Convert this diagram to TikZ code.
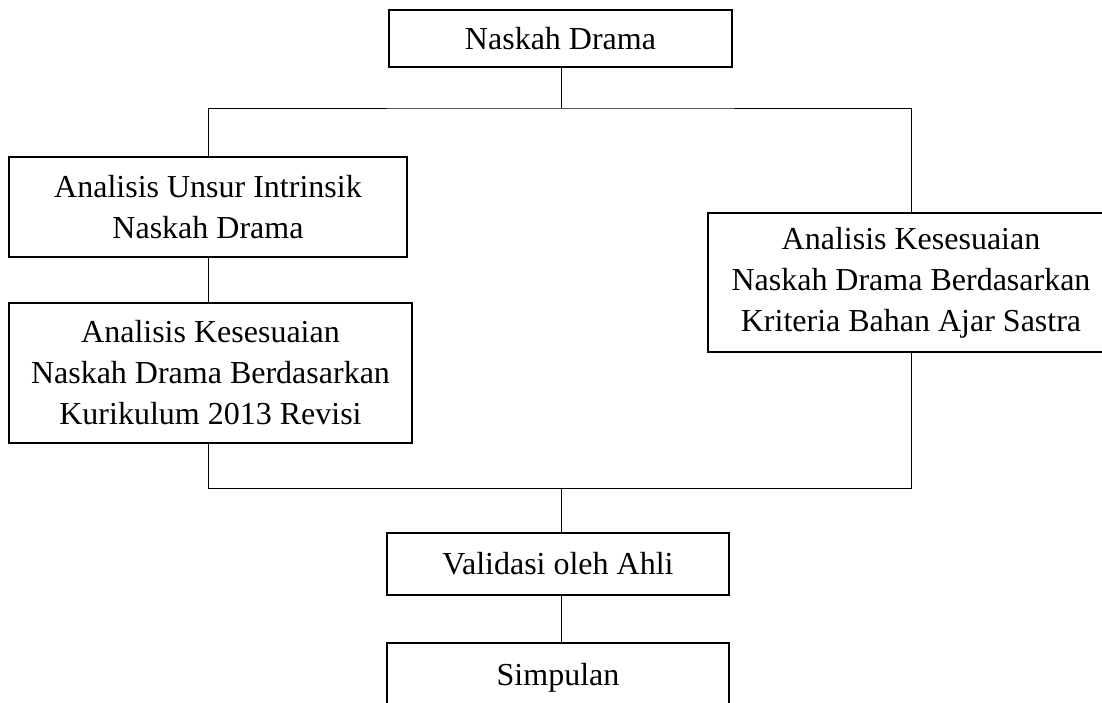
\documentclass[tikz,border=0pt]{standalone}
\usepackage{fontspec}
\setmainfont{Liberation Serif}
\usetikzlibrary{calc}

\tikzset{kotak/.style={draw, line width=1.6pt, align=center, inner sep=0pt,
  font=\fontsize{32}{41}\selectfont}}

\begin{document}
\begin{tikzpicture}[x=1pt,y=-1pt,line width=1pt]
\useasboundingbox (0,0) rectangle (1102,702);
% kotak-kotak
\node[kotak, minimum width=343, minimum height=57] (naskah) at (560.5,38.5) {Naskah Drama};
\node[kotak, minimum width=398, minimum height=100] (intrinsik) at (208,207) {Analisis Unsur Intrinsik\\Naskah Drama};
\node[kotak, minimum width=403, minimum height=140] (kurikulum) at (210.5,373) {Analisis Kesesuaian\\Naskah Drama Berdasarkan\\Kurikulum 2013 Revisi};
\node[kotak, minimum width=406, minimum height=139] (kriteria) at (911,282.5) {Analisis Kesesuaian\\Naskah Drama Berdasarkan\\Kriteria Bahan Ajar Sastra};
\node[kotak, minimum width=342, minimum height=62] (validasi) at (558,564) {Validasi oleh Ahli};
\node[kotak, minimum width=342, minimum height=70] (simpulan) at (558,678) {Simpulan};
% garis
\coordinate (pisah) at (561,108);
\coordinate (gabung) at (561,488);
\draw (naskah.south -| pisah) -- (pisah);
\draw (intrinsik.north) |- (pisah) -| (kriteria.north);
\draw (intrinsik.south) -- (intrinsik.south |- kurikulum.north);
\draw (intrinsik.south |- kurikulum.south) |- (gabung) -| (kriteria.south);
\draw (gabung) -- (gabung |- validasi.north);
\draw (gabung |- validasi.south) -- (gabung |- simpulan.north);
\end{tikzpicture}
\end{document}
